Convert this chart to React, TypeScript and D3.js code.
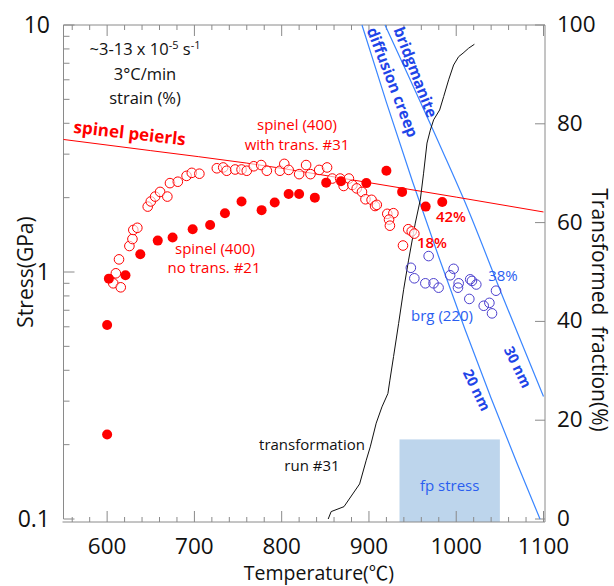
import React from "react";
import * as d3 from "d3";

// ---- data ----
const noTransT = [600, 600, 602, 621, 638, 658, 675, 698, 718, 735, 754, 777, 792, 808, 820, 838, 851, 868, 897, 920, 938, 965, 984];
const noTransS = [0.22, 0.61, 0.94, 0.97, 1.18, 1.34, 1.38, 1.49, 1.55, 1.73, 1.93, 1.78, 1.91, 2.07, 2.07, 2.0, 2.3, 2.33, 2.29, 2.57, 2.11, 1.84, 1.92];

const withTransT = [607, 615.6, 610, 613.6, 625.5, 629, 630, 634.6, 646.5, 650, 655, 660.7, 669, 672, 681, 691, 697, 705.7, 725.7, 733, 737, 746.7, 754, 760, 768, 776.5, 783, 798, 803, 808, 820, 828, 833, 843, 852, 858, 867, 871, 877, 881, 886, 892, 896, 903, 907, 909, 921, 928, 923, 924, 945, 949, 952, 939];
const withTransS = [0.9, 0.867, 0.988, 1.125, 1.274, 1.36, 1.48, 1.51, 1.84, 1.93, 2.02, 2.11, 2.02, 2.29, 2.32, 2.45, 2.52, 2.5, 2.63, 2.65, 2.57, 2.6, 2.6, 2.57, 2.68, 2.71, 2.57, 2.57, 2.74, 2.59, 2.49, 2.71, 2.49, 2.59, 2.65, 2.39, 2.39, 2.23, 2.39, 2.25, 2.18, 2.11, 1.97, 1.96, 1.85, 1.87, 1.72, 1.73, 1.63, 1.54, 1.49, 1.46, 1.43, 1.28];

const brgT = [968.4, 948, 952, 964.6, 974, 979.8, 993, 997, 1002.8, 1002, 1016, 1018, 1023, 1015, 1031.5, 1038, 1041, 1045.6];
const brgS = [1.16, 1.04, 0.943, 0.9, 0.9, 0.864, 0.97, 1.03, 0.9, 0.864, 0.934, 0.92, 0.89, 0.778, 0.73, 0.75, 0.68, 0.84];

const peierlsT = [550, 650, 760, 900, 1000, 1100];
const peierlsS = [3.44, 3.1, 2.76, 2.3, 2.01, 1.75];

const creep20T = [892, 920, 950, 980, 1010, 1040, 1070, 1096];
const creep20S = [10, 4.86, 2.32, 1.15, 0.586, 0.308, 0.167, 0.1];
const creep30T = [918.4, 983.7, 1008.9, 1054.7, 1100];
const creep30S = [10, 3.12, 1.96, 0.772, 0.313];

const transT = [853.3, 856.7, 871.4, 889.3, 896.9, 901.5, 908.3, 914.9, 921.7, 924, 928.2, 934, 939.7, 945.4, 953.1, 958.8, 962.6, 966.5, 970.3, 974.1, 981, 985.6, 991.3, 997, 1002.8, 1007.8, 1014.2, 1020.8];
const transF = [0, 1.5, 2.5, 7.1, 11.9, 14.6, 19.4, 22.7, 25.4, 28.1, 32.9, 39.6, 46.4, 52.4, 59.9, 64.6, 70.0, 76.1, 78.7, 80.8, 82.8, 85.5, 88.9, 91.9, 93.6, 94.3, 95.3, 96.1];

const fpBoxT = [935, 1050];
const fpBoxS = [0.1, 0.21];

const xTicks = [600, 700, 800, 900, 1000, 1100];
const xMinor = d3.range(560, 1101, 20);
const yTickLabels = [
  { v: 0.1, t: "0.1" },
  { v: 1, t: "1" },
  { v: 10, t: "10" },
];
const yRTicks = [0, 20, 40, 60, 80, 100];

const FONT = "'Open Sans', 'Noto Sans CJK JP', sans-serif";

export default function App() {
  const x = d3.scaleLinear().domain([550, 1100]).range([63.5, 543.5]);
  const y = d3.scaleLog().domain([0.1, 10]).range([519, 25]);
  const yR = d3.scaleLinear().domain([0, 100]).range([519, 25]);
  const L = 63.5, R = 545, T = 25, B = 522;
  const axisCol = "#8a8a8a";
  const red = "#ff0000";
  const lineBlue = "#3a86ff";

  const logLine = d3
    .line<[number, number]>()
    .x((d) => x(d[0]))
    .y((d) => y(d[1]))
    .curve(d3.curveMonotoneX);
  const fracLine = d3
    .line<[number, number]>()
    .x((d) => x(d[0]))
    .y((d) => yR(d[1]));

  const zip = (a: number[], b: number[]) => a.map((v, i) => [v, b[i]] as [number, number]);

  const minorY: number[] = [];
  [0.1, 1].forEach((dec) => {
    for (let k = 2; k <= 9; k++) minorY.push(dec * k);
  });

  return (
    <svg width={614} height={586} style={{ position: "absolute", left: 0, top: 0, background: "#fff" }} fontFamily={FONT}>
      {/* fp stress box */}
      <rect
        x={x(fpBoxT[0])}
        y={y(fpBoxS[1])}
        width={x(fpBoxT[1]) - x(fpBoxT[0])}
        height={B - y(fpBoxS[1])}
        fill="#bdd5ec"
      />
      <text x={(x(fpBoxT[0]) + x(fpBoxT[1])) / 2} y={491} textAnchor="middle" fontSize={15} fill="#2a5ef0">
        fp stress
      </text>

      {/* frame */}
      <line x1={L} y1={T} x2={L} y2={519} stroke={axisCol} />
      <line x1={L - 1} y1={B} x2={R} y2={B} stroke={axisCol} />
      <line x1={L} y1={T} x2={R} y2={T} stroke={axisCol} />
      <line x1={R} y1={T} x2={R} y2={B} stroke={axisCol} />

      {/* x ticks bottom & top */}
      {xMinor.map((t) => {
        const major = t % 100 === 0;
        const len = major ? 11 : 5;
        return (
          <g key={"xt" + t}>
            <line x1={x(t)} x2={x(t)} y1={B} y2={B - len} stroke={axisCol} />
            <line x1={x(t)} x2={x(t)} y1={T} y2={T + len} stroke={axisCol} />
          </g>
        );
      })}
      {xTicks.map((t) => (
        <text key={"xl" + t} x={x(t)} y={554} textAnchor="middle" fontSize={22.5} fill="#111">
          {t}
        </text>
      ))}

      {/* left y ticks */}
      {yTickLabels.map((d) => (
        <g key={"yl" + d.t}>
          <line x1={L} x2={L + 11} y1={y(d.v)} y2={y(d.v)} stroke={axisCol} />
          <text x={50} y={y(d.v) + 8} textAnchor="end" fontSize={23} fill="#111">
            {d.t}
          </text>
        </g>
      ))}
      {minorY.map((v) => (
        <line key={"ym" + v} x1={L} x2={L + 6} y1={y(v)} y2={y(v)} stroke={axisCol} />
      ))}

      {/* right ticks */}
      {yRTicks.map((v) => (
        <g key={"yr" + v}>
          <line x1={R} x2={R - 10} y1={yR(v)} y2={yR(v)} stroke={axisCol} />
          <text x={557} y={yR(v) + 7} textAnchor="start" fontSize={22.5} fill="#111">
            {v}
          </text>
        </g>
      ))}

      {/* axis titles */}
      <text transform={`translate(33,272) rotate(-90)`} textAnchor="middle" fontSize={21} fill="#111">
        Stress(GPa)
      </text>
      <text transform={`translate(592,310) rotate(90)`} textAnchor="middle" fontSize={21} fill="#111">
        {"Transformed\u00a0\u00a0fraction(%)"}
      </text>
      <text x={319} y={580} textAnchor="middle" fontSize={19.5} fill="#111">
        Temperature(℃)
      </text>

      {/* diffusion creep lines */}
      <path d={logLine(zip(creep20T, creep20S)) || ""} fill="none" stroke={lineBlue} strokeWidth={1.2} />
      <path d={logLine(zip(creep30T, creep30S)) || ""} fill="none" stroke={lineBlue} strokeWidth={1.2} />

      {/* peierls line */}
      <path d={logLine(zip(peierlsT, peierlsS)) || ""} fill="none" stroke={red} strokeWidth={1} />

      {/* transformation curve */}
      <path d={fracLine(zip(transT, transF)) || ""} fill="none" stroke="#111" strokeWidth={1} />

      {/* points */}
      {withTransT.map((t, i) => (
        <circle key={"w" + i} cx={x(t)} cy={y(withTransS[i])} r={4.8} fill="#fff" fillOpacity={0.6} stroke={red} strokeWidth={1} />
      ))}
      {noTransT.map((t, i) => (
        <circle key={"n" + i} cx={x(t)} cy={y(noTransS[i])} r={5} fill={red} />
      ))}
      {brgT.map((t, i) => (
        <circle key={"b" + i} cx={x(t)} cy={y(brgS[i])} r={4.8} fill="none" stroke="#4b3fce" strokeWidth={1} />
      ))}

      {/* annotations */}
      <g fontSize={16.5} fill="#111" textAnchor="middle">
        <text x={145} y={55}>
          ~3-13 x 10
          <tspan fontSize={11} dy={-6}>-5</tspan>
          <tspan dy={6}> s</tspan>
          <tspan fontSize={11} dy={-6}>-1</tspan>
        </text>
        <text x={145} y={80}>3°C/min</text>
        <text x={145} y={104}>strain (%)</text>
      </g>
      <text transform={`translate(129,139) rotate(6.5)`} textAnchor="middle" fontSize={17} fontWeight="bold" fill={red}>
        spinel peierls
      </text>
      <g fontSize={15} fill={red} textAnchor="middle">
        <text x={297} y={130}>spinel (400)</text>
        <text x={297} y={150}>with trans. #31</text>
        <text x={215} y={254}>spinel (400)</text>
        <text x={214} y={273}>no trans. #21</text>
      </g>
      <g fontSize={15} fill={red} fontWeight={600} textAnchor="middle">
        <text x={451} y={222}>42%</text>
        <text x={432} y={248}>18%</text>
      </g>
      <g fontSize={15} fill="#2a5ef0" textAnchor="middle">
        <text x={503} y={281}>38%</text>
        <text x={442} y={321}>brg (220)</text>
      </g>
      <g fontSize={15.5} fontWeight="bold" fill="#1f45e8" textAnchor="middle" dominantBaseline="central">
        <text transform={`translate(416,72) rotate(69)`}>bridgmanite</text>
        <text transform={`translate(393,82) rotate(69)`}>diffusion creep</text>
        <text transform={`translate(518,367) rotate(64)`} fontSize={14.5}>30 nm</text>
        <text transform={`translate(477,390) rotate(64)`} fontSize={14.5}>20 nm</text>
      </g>
      <g fontSize={15} fill="#111" textAnchor="middle">
        <text x={312} y={450}>transformation</text>
        <text x={312} y={471}>run #31</text>
      </g>
    </svg>
  );
}
